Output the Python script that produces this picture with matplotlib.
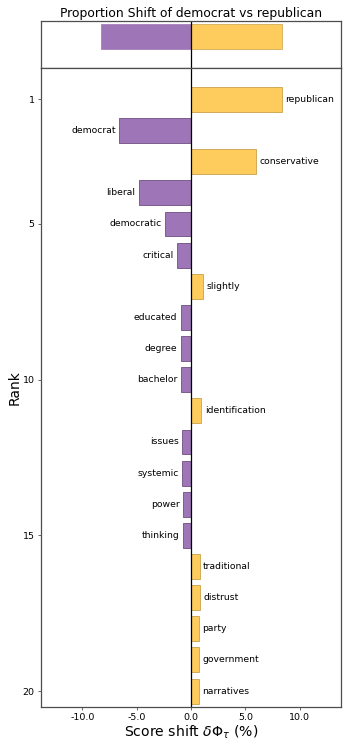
import matplotlib
matplotlib.use('Agg')
import matplotlib.pyplot as plt
import numpy as np

words = ['republican', 'democrat', 'conservative', 'liberal', 'democratic',
         'critical', 'slightly', 'educated', 'degree', 'bachelor',
         'identification', 'issues', 'systemic', 'power', 'thinking',
         'traditional', 'distrust', 'party', 'government', 'narratives']
shifts = [8.35, -6.58, 5.96, -4.83, -2.36,
          -1.28, 1.07, -0.94, -0.92, -0.92,
          0.95, -0.80, -0.80, -0.73, -0.73,
          0.80, 0.80, 0.73, 0.73, 0.73]
total_neg = -8.26
total_pos = 8.35
ranks = np.arange(1, len(words) + 1)

COLOR_PURPLE = '#9E75B6'
COLOR_YELLOW = '#FECC5D'
EDGE_PURPLE = '#6E4F82'
EDGE_YELLOW = '#C9A24A'
SPINE = '#4d4d4d'

fig = plt.figure(figsize=(3.49, 7.47), dpi=100)
ax_top = fig.add_axes([0.1175, 0.9086, 0.8596, 0.0637])
ax = fig.add_axes([0.1175, 0.054, 0.8596, 0.8546])

xlim = (-13.8, 13.8)

# summary bar
ax_top.barh([0.66], [total_neg], height=0.52, color=COLOR_PURPLE, edgecolor=COLOR_PURPLE, linewidth=0.5)
ax_top.barh([0.66], [total_pos], height=0.52, color=COLOR_YELLOW, edgecolor=EDGE_YELLOW, linewidth=0.5)
ax_top.axvline(0, color='black', linewidth=0.9)
ax_top.set_xlim(xlim)
ax_top.set_ylim(0, 1)
ax_top.set_xticks([])
ax_top.set_yticks([])
for s in ax_top.spines.values():
    s.set_color(SPINE)
    s.set_linewidth(0.9)
ax_top.set_title('Proportion Shift of democrat vs republican', fontsize=8.9, pad=3)

# word shifts
colors = [COLOR_YELLOW if v > 0 else COLOR_PURPLE for v in shifts]
edges = [EDGE_YELLOW if v > 0 else EDGE_PURPLE for v in shifts]
ax.barh(ranks, shifts, height=0.8, color=colors, edgecolor=edges, linewidth=0.6)
ax.axvline(0, color='black', linewidth=0.9)
for r, v, w in zip(ranks, shifts, words):
    if v > 0:
        ax.annotate(w, (v, r), xytext=(2.5, 0), textcoords='offset points',
                    ha='left', va='center', fontsize=6.7)
    else:
        ax.annotate(w, (v, r), xytext=(-2.5, 0), textcoords='offset points',
                    ha='right', va='center', fontsize=6.7)

ax.set_xlim(xlim)
ax.set_ylim(20.5, 0.0)
ax.set_yticks([1, 5, 10, 15, 20])
ax.set_xticks([-10, -5, 0, 5, 10])
ax.set_xticklabels(['-10.0', '-5.0', '0.0', '5.0', '10.0'])
ax.tick_params(labelsize=6.8, length=2.5, width=0.6, color=SPINE, pad=2)
for s in ax.spines.values():
    s.set_color(SPINE)
    s.set_linewidth(0.9)
ax.set_ylabel('Rank', fontsize=10, labelpad=1)
ax.set_xlabel(r'Score shift $\delta \Phi_{\tau}$ (%)', fontsize=10.1, labelpad=1)

fig.savefig('out.png', dpi=100)
